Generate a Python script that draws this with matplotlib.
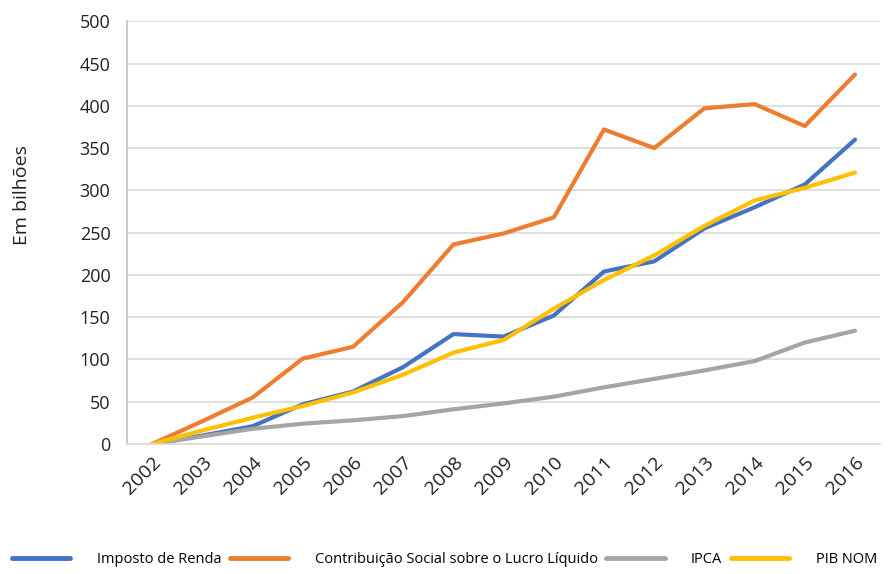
import matplotlib.pyplot as plt

plt.rcParams['font.family'] = ['Open Sans', 'DejaVu Sans']

years = [str(y) for y in range(2002, 2017)]
imposto_renda = [0, 10, 21, 47, 62, 91, 130, 127, 152, 204, 216, 255, 280, 307, 360]
csll = [0, 27, 55, 101, 115, 168, 236, 249, 268, 372, 350, 397, 402, 376, 437]
ipca = [0, 9, 18, 24, 28, 33, 41, 48, 56, 67, 77, 87, 98, 120, 134]
pib_nom = [0, 16, 31, 45, 61, 82, 108, 123, 160, 194, 223, 258, 288, 303, 321]

series = [
    ("Imposto de Renda", imposto_renda, "#4472C4"),
    ("Contribuição Social sobre o Lucro Líquido", csll, "#ED7D31"),
    ("IPCA", ipca, "#A5A5A5"),
    ("PIB NOM", pib_nom, "#FFC000"),
]

fig = plt.figure(figsize=(8.89, 5.74), dpi=100)
ax = fig.add_axes([0.143, 0.2265, 0.847, 0.7365])

x = range(len(years))
for name, vals, col in series:
    ax.plot(x, vals, color=col, linewidth=3.0, label=name, solid_capstyle='round')

ax.set_xlim(-0.5, len(years) - 0.5)
ax.set_ylim(0, 500)
ax.set_yticks(range(0, 501, 50))
ax.set_xticks(list(x))
ax.set_xticklabels(years, rotation=45, ha='right', rotation_mode='anchor')
ax.tick_params(axis='both', length=0, labelsize=13, colors='#222222')
ax.tick_params(axis='x', labelsize=14, pad=7)
ax.tick_params(axis='y', pad=12)

ax.grid(axis='y', color='#D9D9D9', linewidth=1.2)
ax.set_axisbelow(True)
for s in ['top', 'right']:
    ax.spines[s].set_visible(False)
ax.spines['left'].set_color('#BFBFBF')
ax.spines['bottom'].set_color('#D9D9D9')
ax.spines['left'].set_linewidth(1.2)
ax.spines['bottom'].set_linewidth(1.2)

ax.set_ylabel("Em bilhões", fontsize=14, color='#222222')
ax.yaxis.set_label_coords(-0.128, 0.59)

leg = fig.legend(loc='lower center', bbox_to_anchor=(0.5, -0.01), ncol=4, frameon=False,
                 fontsize=10.5, handlelength=4.0, handletextpad=1.8, columnspacing=0.6)
for line in leg.get_lines():
    line.set_linewidth(3.5)

fig.savefig("out.png", dpi=100)
